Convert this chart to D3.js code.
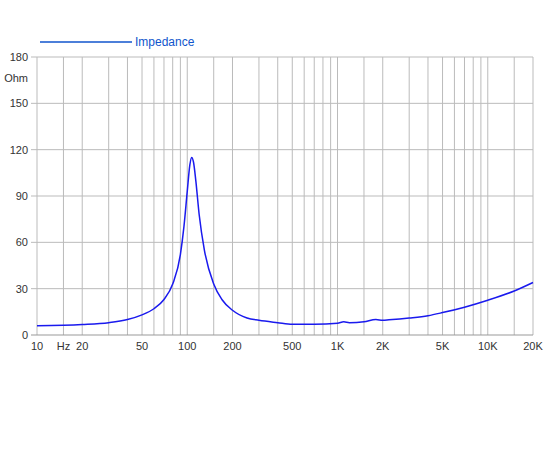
<!DOCTYPE html>
<html><head><meta charset="utf-8">
<script src="https://cdn.jsdelivr.net/npm/d3@7"></script>
<style>body{margin:0;background:#fff}</style></head>
<body><div id="container"></div>
<script>
const freqs = [10, 20, 30, 40, 50, 60, 70, 80, 90, 95, 100, 104, 107, 110, 114, 120, 130, 150, 170, 200, 250, 300, 400, 500, 700, 1000, 1100, 1200, 1500, 1800, 2000, 2200, 3000, 4000, 5000, 7000, 10000, 15000, 20000];
const ohms = [6, 6.8, 8, 10, 13, 17, 23, 33, 52, 70, 93, 110, 115, 112, 100, 78, 55, 33, 23, 16, 11, 9.5, 8, 7, 7, 7.6, 8.6, 8, 8.6, 10, 9.5, 9.8, 11, 12.5, 14.5, 18, 22.5, 28.5, 34];
const gridFreqs = [10, 15, 20, 30, 40, 50, 60, 70, 80, 90, 100, 150, 200, 300, 400, 500, 600, 700, 800, 900, 1000, 1500, 2000, 3000, 4000, 5000, 6000, 7000, 8000, 9000, 10000, 15000, 20000];
const labelFreqs = [10, 20, 50, 100, 200, 500, 1000, 2000, 5000, 10000, 20000];
const labelText = ["10", "20", "50", "100", "200", "500", "1K", "2K", "5K", "10K", "20K"];
const yTicks = [0, 30, 60, 90, 120, 150, 180];

const width = 550, height = 450;
const svg = d3.select("#container").append("svg")
  .attr("width", width).attr("height", height)
  .style("font-family", "Helvetica, Arial, 'Liberation Sans', sans-serif");

const x = d3.scaleLog().domain([10, 20000]).range([37, 533]);
const y = d3.scaleLinear().domain([0, 180]).range([335, 57]);

svg.append("g").selectAll("line").data(gridFreqs).enter().append("line")
  .attr("x1", d => x(d)).attr("x2", d => x(d))
  .attr("y1", y(180)).attr("y2", y(0))
  .style("stroke", "#bbb").style("stroke-width", 1);

svg.append("g").selectAll("line").data(yTicks).enter().append("line")
  .attr("x1", 31).attr("x2", 533)
  .attr("y1", d => y(d)).attr("y2", d => y(d))
  .style("stroke", d => d === 0 ? "#999" : "#bbb").style("stroke-width", 1);

svg.append("g").selectAll("text").data(yTicks).enter().append("text")
  .attr("x", 28).attr("y", d => y(d) + 4)
  .attr("text-anchor", "end").style("font-size", "11px").style("fill", "#333")
  .text(d => d);
svg.append("text").attr("x", 28).attr("y", 82).attr("text-anchor", "end")
  .style("font-size", "11px").style("fill", "#333").text("Ohm");

svg.append("g").selectAll("text").data(labelFreqs).enter().append("text")
  .attr("x", d => x(d)).attr("y", 350).attr("text-anchor", "middle")
  .style("font-size", "11px").style("fill", "#333")
  .text((d, i) => labelText[i]);
svg.append("text").attr("x", x(15)).attr("y", 350).attr("text-anchor", "middle")
  .style("font-size", "11px").style("fill", "#333").text("Hz");

const line = d3.line().x(d => x(d[0])).y(d => y(d[1])).curve(d3.curveMonotoneX);
svg.append("path").datum(freqs.map((f, i) => [f, ohms[i]]))
  .attr("d", line).style("fill", "none")
  .style("stroke", "#1a1aee").style("stroke-width", 1.5);

svg.append("line").attr("x1", 40).attr("x2", 132).attr("y1", 42).attr("y2", 42)
  .style("stroke", "#1155cc").style("stroke-width", 1.5);
svg.append("text").attr("x", 135).attr("y", 46)
  .style("font-size", "12px").style("fill", "#1155cc").text("Impedance");
</script></body></html>
